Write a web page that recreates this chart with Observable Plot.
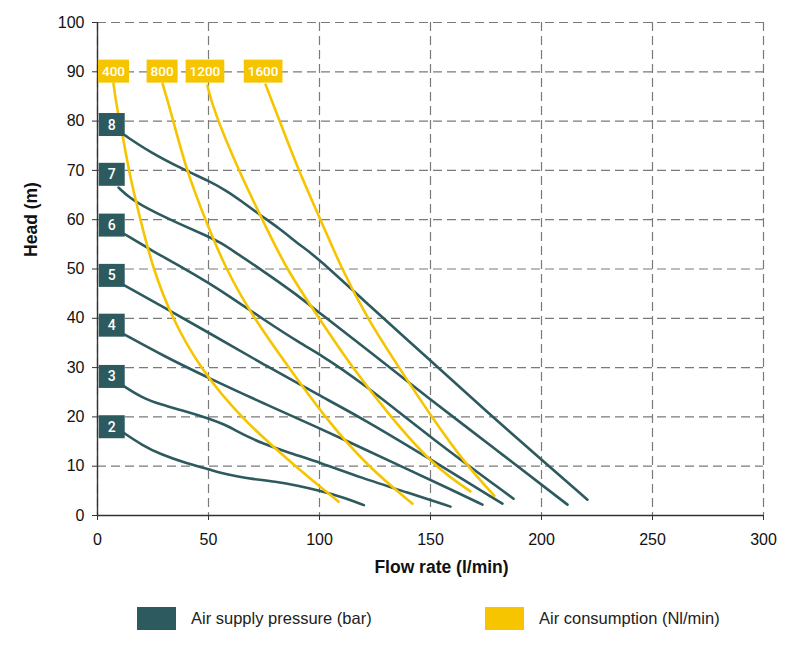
<!DOCTYPE html>
<html><head><meta charset="utf-8">
<script src="https://cdn.jsdelivr.net/npm/d3@7"></script>
<script src="https://cdn.jsdelivr.net/npm/@observablehq/plot@0.6"></script>
<style>
body{margin:0;background:#fff;}
#chart{width:800px;height:650px;position:relative;overflow:hidden;}
.legend{position:absolute;top:607px;left:0;width:800px;height:23px;font-family:"Liberation Sans",Arial,sans-serif;font-size:16.5px;color:#222;}
.item{position:absolute;top:0;display:flex;align-items:center;height:23px;}
.sw{width:39px;height:23px;margin-right:15px;}
</style></head><body><div id="chart"></div>
<script>
// ---- Data ----
const xTicks = [0, 50, 100, 150, 200, 250, 300];
const yTicks = [0, 10, 20, 30, 40, 50, 60, 70, 80, 90, 100];
const xTitle = "Flow rate (l/min)";
const yTitle = "Head (m)";
const pressureLegend = "Air supply pressure (bar)";
const consumptionLegend = "Air consumption (Nl/min)";

// Air supply pressure curves (bar): [flow l/min, head m]
const pressureLevels = ["2", "3", "4", "5", "6", "7", "8"];
const bar2 = [[11.7,16.8],[20,14.3],[28.4,12.4],[40,10.6],[50,9.4],[60,8.1],[70,7.4],[80,6.9],[90,6.1],[100.5,5.0],[110,3.8],[120,2.1]];
const bar3 = [[11.7,26.3],[20,23.9],[28.4,22.5],[40,21.1],[50,19.7],[57,18.5],[62,17.3],[68,15.9],[74,14.7],[85,12.9],[100.5,10.7],[118.5,7.7],[140,4.6],[159,1.8]];
const bar4 = [[12.2,36.7],[30,32.3],[50,27.9],[75,22.7],[100.5,17.6],[118.5,13.8],[140,9.3],[160,5.1],[173.4,2.2]];
const bar5 = [[11.7,46.8],[30,42.2],[50,37.1],[75,30.6],[100.5,24.2],[118.5,19.9],[150,11.4],[182.4,2.4]];
const bar6 = [[11.7,57.2],[25,53.6],[38.3,50.3],[50,47.2],[60,44.3],[74.3,39.9],[91.4,34.9],[100.5,32.6],[118.5,27.2],[150,15.8],[187.4,3.4]];
const bar7 = [[9.5,66.5],[14,64.6],[21.6,62.4],[36.5,59.2],[50,56.6],[56,55.2],[61,53.7],[74.3,49.7],[89.2,45],[100.5,40.9],[118.5,34.7],[150,23.5],[180,13.2],[211.7,2.2]];
const bar8 = [[11.7,77.3],[23.9,73.6],[39.6,70],[50,67.9],[58,65.9],[64.4,63.9],[73.4,60.9],[82,58.2],[88.3,55.9],[91.4,54.8],[99,52.3],[118.5,44.2],[150,31.4],[175,21.2],[200,11.3],[220.7,3.2]];
const pressureSeries = [bar2, bar3, bar4, bar5, bar6, bar7, bar8];
const pressureLabelX = [6.4, 6.4, 6.4, 6.4, 6.4, 6.4, 6.4];
const pressureLabelY = [17.9, 28.1, 38.5, 48.6, 58.8, 69.1, 79.2];

// Air consumption curves (Nl/min)
const consumptionLevels = ["400", "800", "1200", "1600"];
const nl400 = [[7.2,87.6],[8.9,82.2],[10.2,80],[14,70],[19.3,60],[25,50],[33.6,40],[46,30],[64,20],[89,10],[108.6,2.8]];
const nl800 = [[29.3,87.6],[32.9,82.2],[40,70],[48.6,60],[57.7,50],[70.4,40],[86.2,30],[102.2,20],[121.5,10],[141.9,2.4]];
const nl1200 = [[49.5,87.2],[52.3,82.2],[63.5,70],[74.3,60],[85,50],[99.8,40],[114.7,30],[132,20],[151.5,10],[168,4.9]];
const nl1600 = [[75.7,87.4],[80.2,82.2],[90.5,70],[100.5,60],[110,50],[121.5,40],[135.8,30],[150.5,20],[166.5,10],[178.8,4]];
const consumptionSeries = [nl400, nl800, nl1200, nl1600];
const consumptionLabelX = [7.2, 29.1, 48.4, 74.6];
const consumptionLabelY = [90, 90, 90, 90];

// ---- Styles ----
const teal = "#2d5a5e";
const yellow = "#f6c500";

const pressureRows = pressureSeries.flatMap((s, i) => s.map(([x, y]) => ({x, y, level: pressureLevels[i]})));
const consumptionRows = consumptionSeries.flatMap((s, i) => s.map(([x, y]) => ({x, y, level: consumptionLevels[i]})));
const pressureLabels = pressureLevels.map((t, i) => ({x: pressureLabelX[i], y: pressureLabelY[i], t}));
const consumptionLabels = consumptionLevels.map((t, i) => ({x: consumptionLabelX[i], y: consumptionLabelY[i], t}));

const gridStyle = {stroke: "#7a7a7a", strokeOpacity: 1, strokeWidth: 1.2, strokeDasharray: "9,5"};
const sans = "'Liberation Sans', Arial, sans-serif";

const chart = Plot.plot({
  width: 800, height: 590,
  marginLeft: 97, marginRight: 37, marginTop: 22, marginBottom: 75,
  x: {domain: [0, 300]},
  y: {domain: [0, 100]},
  style: {fontFamily: sans, fontSize: "16px", color: "#111", background: "#fff"},
  marks: [
    Plot.gridX(xTicks, gridStyle),
    Plot.gridY(yTicks, gridStyle),
    Plot.line(pressureRows, {x: "x", y: "y", z: "level", stroke: teal, strokeWidth: 2.6, curve: "basis"}),
    Plot.line(consumptionRows, {x: "x", y: "y", z: "level", stroke: yellow, strokeWidth: 2.6, curve: "basis"}),
    Plot.ruleX([0], {stroke: "#333", strokeWidth: 1.4}),
    Plot.ruleY([0], {stroke: "#333", strokeWidth: 1.4}),
    Plot.axisX(xTicks, {tickSize: 5, tickPadding: 13, label: null, fontSize: 16, stroke: "#333"}),
    Plot.axisY(yTicks, {tickSize: 5, tickPadding: 8, label: null, fontSize: 16, stroke: "#333"}),
    Plot.text(consumptionLabels, {x: "x", y: "y", text: "t", fill: "white", fontFamily: "Roboto, sans-serif", fontSize: 13.5, fontWeight: 500, className: "lab-yellow"}),
    Plot.text(pressureLabels, {x: "x", y: "y", text: "t", fill: "white", fontFamily: "Roboto, sans-serif", fontSize: 14, fontWeight: 500, className: "lab-teal"}),
    Plot.text([xTitle], {frameAnchor: "bottom", textAnchor: "middle", dx: 11, dy: 57, fontWeight: "bold", fontSize: 17.5, fill: "#111"}),
    Plot.text([yTitle], {frameAnchor: "left", textAnchor: "middle", dx: -66, dy: -49.5, rotate: -90, fontWeight: "bold", fontSize: 17.5, fill: "#111"})
  ]
});

const root = document.getElementById("chart");
root.appendChild(chart);

function boxLabels(cls, color, fixedW) {
  chart.querySelectorAll(`g.${cls} text`).forEach(t => {
    const b = t.getBBox();
    const cx = b.x + b.width / 2, cy = b.y + b.height / 2;
    const w = fixedW || (b.width + 8), h = 23;
    const r = document.createElementNS("http://www.w3.org/2000/svg", "rect");
    r.setAttribute("x", cx - w / 2);
    r.setAttribute("y", cy - h / 2);
    r.setAttribute("width", w);
    r.setAttribute("height", h);
    r.setAttribute("fill", color);
    if (t.getAttribute("transform")) r.setAttribute("transform", t.getAttribute("transform"));
    t.parentNode.insertBefore(r, t);
  });
}
boxLabels("lab-yellow", yellow, 0);
boxLabels("lab-teal", teal, 26);

const legend = document.createElement("div");
legend.className = "legend";
legend.innerHTML = `
  <div class="item" style="left:137px"><div class="sw" style="background:${teal}"></div><span>${pressureLegend}</span></div>
  <div class="item" style="left:485px"><div class="sw" style="background:${yellow}"></div><span>${consumptionLegend}</span></div>`;
root.appendChild(legend);
</script>
</body></html>
